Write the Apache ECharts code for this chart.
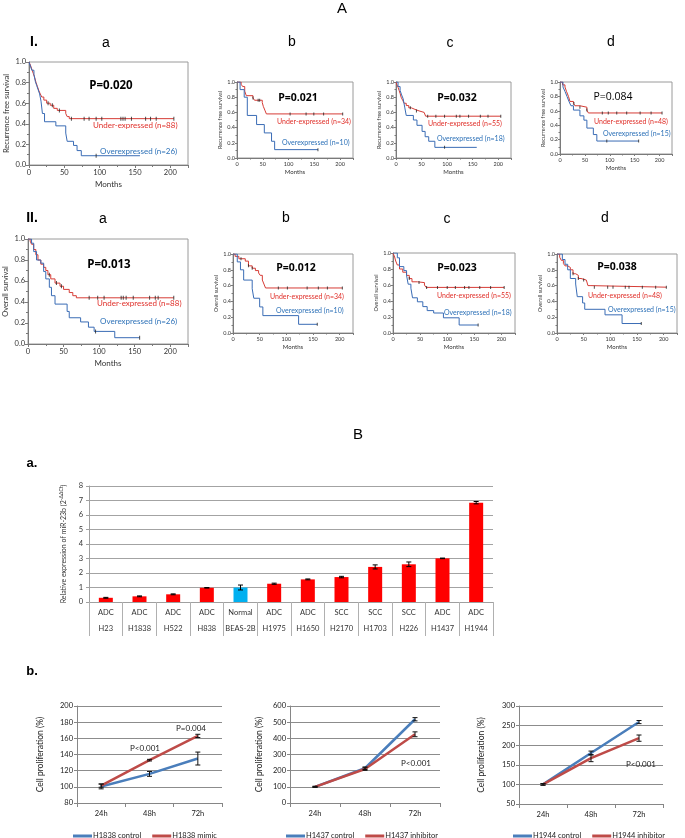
<!DOCTYPE html>
<html><head><meta charset="utf-8">
<script src="https://cdn.jsdelivr.net/npm/echarts@6/dist/echarts.min.js"></script>
<style>html,body{margin:0;padding:0;background:#fff}#c{width:685px;height:838px}</style>
</head><body><div id="c"></div><script>
// ---------- Panel A: Kaplan-Meier step points [month, survival] ----------
const rfsA_under = [[0,1],[2,0.97],[4,0.93],[6,0.89],[8,0.85],[10,0.80],[12,0.76],[14,0.72],[16,0.69],[18,0.66],[21,0.63],[25,0.60],[30,0.58],[35,0.55],[40,0.53],[52,0.50],[54,0.47],[57,0.45],[205,0.45]];
const rfsA_over = [[0,1],[2,0.96],[4,0.92],[7,0.88],[9,0.81],[11,0.77],[13,0.73],[15,0.69],[17,0.62],[19,0.50],[22,0.42],[38,0.38],[52,0.31],[54,0.23],[63,0.19],[68,0.14],[74,0.09],[157,0.09]];
const rfsA_underCens = [27,33,43,60,78,85,95,103,130,133,136,145,165,172,180,205];
const rfsA_overCens = [95];

const rfsB_under = [[0,1],[8,0.97],[11,0.94],[15,0.88],[18,0.82],[31,0.79],[34,0.76],[49,0.73],[51,0.68],[54,0.63],[57,0.58],[205,0.58]];
const rfsB_over = [[0,1],[6,0.9],[14,0.8],[20,0.56],[38,0.44],[53,0.33],[67,0.22],[73,0.11],[157,0.11]];
const rfsB_underCens = [31,41,44,103,134,149,168,205];
const rfsB_overCens = [157];

const rfsC_under = [[0,1],[2,0.96],[4,0.93],[6,0.89],[8,0.85],[10,0.80],[13,0.76],[16,0.72],[20,0.69],[25,0.66],[30,0.64],[37,0.62],[45,0.60],[55,0.58],[58,0.55],[205,0.55]];
const rfsC_over = [[0,1],[4,0.94],[8,0.89],[11,0.83],[14,0.78],[17,0.67],[20,0.56],[34,0.50],[41,0.43],[51,0.35],[57,0.28],[64,0.22],[76,0.14],[158,0.14]];
const rfsC_underCens = [28,40,62,78,95,118,125,142,165,180,205];
const rfsC_overCens = [95];

const rfsD_under = [[0,1],[5,0.96],[10,0.93],[13,0.87],[17,0.80],[20,0.73],[27,0.70],[30,0.67],[40,0.65],[54,0.61],[57,0.57],[205,0.57]];
const rfsD_over = [[0,1],[6,0.93],[10,0.87],[14,0.80],[18,0.73],[22,0.67],[27,0.61],[40,0.53],[48,0.47],[54,0.36],[67,0.27],[74,0.18],[158,0.18]];
const rfsD_underCens = [28,40,54,85,97,114,134,161,183,205];
const rfsD_overCens = [94,158];

const osA_under = [[0,1],[3,0.98],[5,0.95],[8,0.90],[11,0.85],[14,0.80],[18,0.76],[22,0.73],[25,0.70],[28,0.66],[32,0.62],[38,0.58],[45,0.55],[50,0.52],[58,0.49],[63,0.46],[68,0.44],[205,0.44]];
const osA_over = [[0,1],[5,0.96],[8,0.88],[12,0.80],[18,0.77],[22,0.69],[25,0.62],[30,0.54],[33,0.46],[38,0.38],[55,0.31],[58,0.25],[74,0.21],[85,0.16],[93,0.12],[122,0.06],[157,0.06]];
const osA_underCens = [30,40,47,86,98,107,131,134,138,148,171,179,183,205];
const osA_overCens = [95,157];

const osB_under = [[0,1],[4,0.97],[11,0.94],[23,0.91],[29,0.85],[36,0.82],[42,0.79],[48,0.76],[51,0.73],[55,0.67],[58,0.62],[61,0.57],[205,0.57]];
const osB_over = [[0,1],[8,0.9],[14,0.8],[20,0.67],[36,0.56],[39,0.44],[50,0.33],[56,0.22],[123,0.11],[158,0.11]];
const osB_underCens = [15,29,36,85,102,139,160,177,205];
const osB_overCens = [158];

const osC_under = [[0,1],[3,0.95],[5,0.90],[8,0.85],[12,0.80],[18,0.76],[25,0.72],[30,0.68],[35,0.64],[45,0.63],[58,0.60],[61,0.57],[205,0.57]];
const osC_over = [[0,1],[8,0.94],[12,0.83],[20,0.78],[25,0.72],[28,0.61],[33,0.56],[36,0.44],[45,0.39],[55,0.33],[63,0.28],[75,0.25],[93,0.19],[122,0.10],[157,0.10]];
const osC_underCens = [30,48,62,82,100,115,132,140,160,180,205];
const osC_overCens = [157];

const osD_under = [[0,1],[5,0.96],[8,0.92],[12,0.88],[15,0.85],[20,0.83],[25,0.80],[30,0.75],[35,0.73],[40,0.69],[45,0.67],[55,0.65],[58,0.60],[62,0.58],[205,0.58]];
const osD_over = [[0,1],[10,0.93],[15,0.87],[20,0.80],[25,0.69],[35,0.62],[38,0.46],[48,0.38],[52,0.30],[90,0.23],[122,0.12],[158,0.12]];
const osD_underCens = [30,40,50,70,95,105,128,135,160,185,205];
const osD_overCens = [158];

const pValuesRFS = ['P=0.020','P=0.021','P=0.032','P=0.084'];
const pValuesOS = ['P=0.013','P=0.012','P=0.023','P=0.038'];
const underLabelsN = [88,34,55,48];
const overLabelsN = [26,10,18,15];
const monthTicks = [0,50,100,150,200];
const survTicks = [0,0.2,0.4,0.6,0.8,1.0];

// ---------- Panel B a: bar chart ----------
const cellTypes = ['ADC','ADC','ADC','ADC','Normal','ADC','ADC','SCC','SCC','SCC','ADC','ADC'];
const cellLines = ['H23','H1838','H522','H838','BEAS-2B','H1975','H1650','H2170','H1703','H226','H1437','H1944'];
const miR23bExpr = [0.29,0.39,0.53,0.98,1.0,1.26,1.56,1.72,2.42,2.6,3.01,6.85];
const miR23bErr = [0.03,0.03,0.03,0.02,0.17,0.04,0.03,0.05,0.14,0.16,0.02,0.08];
const exprTicks = [0,1,2,3,4,5,6,7,8];

// ---------- Panel B b: proliferation ----------
const timePoints = ['24h','48h','72h'];
const h1838Control = [100.5,116,135];
const h1838ControlErr = [3,3,8];
const h1838Mimic = [101.5,133,163];
const h1838MimicErr = [2,1,2];
const h1437Control = [100,215,518];
const h1437ControlErr = [3,8,10];
const h1437Inhibitor = [100,210,425];
const h1437InhibitorErr = [3,8,15];
const h1944Control = [100,180,259];
const h1944ControlErr = [2,5,4];
const h1944Inhibitor = [100,167,218];
const h1944InhibitorErr = [2,9,8];

// ================= build =================
const FONT = 'Lato';
const RED = '#d63c36', BLUE = '#3a6cb5';
const TXT_RED = '#e0302a', TXT_BLUE = '#2e72b8';
const grids = [], xAxes = [], yAxes = [], series = [], graphics = [], legends = [];

function survAt(curve, t){ let s = curve[0][1]; for (const p of curve){ if (p[0] <= t) s = p[1]; } return s; }
function txt(text, x, y, size, opt){
  opt = opt || {};
  graphics.push({type:'text', x:x, y:y, z:100, style:{text:text, fill:opt.color||'#000',
    font:(opt.weight||'normal')+' '+size+'px '+(opt.family||FONT), align:opt.align||'center', verticalAlign:'middle'}});
}

const kmPanels = [
 {u:rfsA_under,o:rfsA_over,uc:rfsA_underCens,oc:rfsA_overCens,r:[29,62,159,103],big:true,yn:'Recurrence free survival',p:pValuesRFS[0],pb:true,pp:[111,86],n:0,ul:[93,125],ol:[100,151]},
 {u:rfsB_under,o:rfsB_over,uc:rfsB_underCens,oc:rfsB_overCens,r:[237,82,116,76],big:false,yn:'Recurrence free survival',p:pValuesRFS[1],pb:true,pp:[298,98],n:1,ul:[277,122],ol:[282,143]},
 {u:rfsC_under,o:rfsC_over,uc:rfsC_underCens,oc:rfsC_overCens,r:[396,82,115,76],big:false,yn:'Recurrence free survival',p:pValuesRFS[2],pb:true,pp:[457,98],n:2,ul:[428,124],ol:[437,139]},
 {u:rfsD_under,o:rfsD_over,uc:rfsD_underCens,oc:rfsD_overCens,r:[560,82,112,72],big:false,yn:'Recurrence free survival',p:pValuesRFS[3],pb:false,pp:[613,97],n:3,ul:[594,122],ol:[603,134]},
 {u:osA_under,o:osA_over,uc:osA_underCens,oc:osA_overCens,r:[28,239,160,105],big:true,yn:'Overall survival',p:pValuesOS[0],pb:true,pp:[109,265],n:0,ul:[97,303],ol:[100,321]},
 {u:osB_under,o:osB_over,uc:osB_underCens,oc:osB_overCens,r:[233,254,120,79],big:false,yn:'Overall survival',p:pValuesOS[1],pb:true,pp:[296,268],n:1,ul:[270,297],ol:[276,311]},
 {u:osC_under,o:osC_over,uc:osC_underCens,oc:osC_overCens,r:[393,253,122,80],big:false,yn:'Overall survival',p:pValuesOS[2],pb:true,pp:[457,268],n:2,ul:[437,296],ol:[444,313]},
 {u:osD_under,o:osD_over,uc:osD_underCens,oc:osD_overCens,r:[557,254,120,79],big:false,yn:'Overall survival',p:pValuesOS[3],pb:true,pp:[617,267],n:3,ul:[588,296],ol:[608,310]}
];

kmPanels.forEach((k, i) => {
  const fs = k.big ? 7.5 : 5.5;
  grids.push({left:k.r[0], top:k.r[1], width:k.r[2], height:k.r[3], show:true, borderColor:'#9a9a9a', borderWidth:1, backgroundColor:'transparent'});
  const axC = '#7a7a7a';
  xAxes.push({gridIndex:i, type:'value', min:0, max:225, interval:50, position:'bottom',
    axisLine:{show:true, onZero:false, lineStyle:{color:axC}},
    axisTick:{show:true, length:k.big?3:2, lineStyle:{color:axC}},
    minorTick:{show:true, splitNumber:2, length:k.big?2:1.5, lineStyle:{color:axC}},
    splitLine:{show:false},
    axisLabel:{fontSize:fs, fontFamily:FONT, color:'#333', margin:k.big?4:3,
      formatter:v => monthTicks.indexOf(v) >= 0 ? String(v) : ''},
    name:'Months', nameLocation:'middle', nameGap:k.big?15:11,
    nameTextStyle:{fontSize:k.big?8:6, fontFamily:FONT, color:'#333'}});
  yAxes.push({gridIndex:i, type:'value', min:0, max:1, interval:0.2, position:'left',
    axisLine:{show:true, onZero:false, lineStyle:{color:axC}},
    axisTick:{show:true, length:k.big?3:2, lineStyle:{color:axC}},
    minorTick:{show:true, splitNumber:2, length:k.big?2:1.5, lineStyle:{color:axC}},
    splitLine:{show:false},
    axisLabel:{fontSize:fs, fontFamily:FONT, color:'#333', margin:k.big?3:2,
      formatter:v => survTicks.some(t => Math.abs(t - v) < 1e-9) ? v.toFixed(1) : ''},
    name:k.yn, nameLocation:'middle', nameGap:k.big?18:12,
    nameTextStyle:{fontSize:k.big?7.5:5.5, fontFamily:FONT, color:'#333'}});
  series.push({type:'line', xAxisIndex:i, yAxisIndex:i, step:'end', data:k.u, showSymbol:false, silent:true,
    lineStyle:{color:RED, width:1}, z:3});
  series.push({type:'line', xAxisIndex:i, yAxisIndex:i, step:'end', data:k.o, showSymbol:false, silent:true,
    lineStyle:{color:BLUE, width:1}, z:3});
  series.push({type:'scatter', xAxisIndex:i, yAxisIndex:i, silent:true, symbol:'rect', symbolSize:[1, k.big?4:3],
    itemStyle:{color:'#222'}, z:4, data:k.uc.map(t => [t, survAt(k.u, t)])});
  series.push({type:'scatter', xAxisIndex:i, yAxisIndex:i, silent:true, symbol:'rect', symbolSize:[1, k.big?4:3],
    itemStyle:{color:'#222'}, z:4, data:k.oc.map(t => [t, survAt(k.o, t)])});
  txt(k.p, k.pp[0], k.pp[1], k.big?11.5:10.5, {weight:k.pb?'bold':'normal', family:'Open Sans'});
  txt('Under-expressed (n=' + underLabelsN[k.n] + ')', k.ul[0], k.ul[1], k.big?8:7, {color:TXT_RED, align:'left'});
  txt('Overexpressed (n=' + overLabelsN[k.n] + ')', k.ol[0], k.ol[1], k.big?8:7, {color:TXT_BLUE, align:'left'});
});

// headers
txt('A', 342, 9, 15, {family:'Liberation Sans'});
txt('I.', 34, 42, 14, {weight:'bold', family:'Liberation Sans'});
txt('a', 106, 43, 14, {family:'Liberation Sans'});
txt('b', 292, 42, 14, {family:'Liberation Sans'});
txt('c', 450, 43, 14, {family:'Liberation Sans'});
txt('d', 611, 42, 14, {family:'Liberation Sans'});
txt('II.', 32, 218, 14, {weight:'bold', family:'Liberation Sans'});
txt('a', 103, 219, 14, {family:'Liberation Sans'});
txt('b', 286, 218, 14, {family:'Liberation Sans'});
txt('c', 447, 219, 14, {family:'Liberation Sans'});
txt('d', 605, 218, 14, {family:'Liberation Sans'});
txt('B', 358, 435, 15, {family:'Liberation Sans'});
txt('a.', 32, 463, 13, {weight:'bold', family:'Liberation Sans'});
txt('b.', 32, 671, 13, {weight:'bold', family:'Liberation Sans'});

// error bar renderer
function errRender(color, hw){
  return function(params, api){
    const x = api.value(0), y = api.value(1), e = api.value(2);
    const t = api.coord([x, y + e]), b = api.coord([x, y - e]);
    const st = {stroke:color, lineWidth:1};
    return {type:'group', children:[
      {type:'line', shape:{x1:t[0], y1:t[1], x2:b[0], y2:b[1]}, style:st},
      {type:'line', shape:{x1:t[0]-hw, y1:t[1], x2:t[0]+hw, y2:t[1]}, style:st},
      {type:'line', shape:{x1:b[0]-hw, y1:b[1], x2:b[0]+hw, y2:b[1]}, style:st}
    ]};
  };
}

// ---- bar chart ----
let gi = grids.length;
grids.push({left:89, top:486, width:404, height:116});
xAxes.push({gridIndex:gi, type:'category', data:cellLines, position:'bottom',
  axisLine:{show:true, onZero:false, lineStyle:{color:'#a0a0a0'}},
  axisTick:{show:true, interval:0, length:34, alignWithLabel:false, lineStyle:{color:'#b0b0b0'}},
  axisLabel:{interval:0, margin:3, color:'#333', fontFamily:FONT,
    formatter:(v, idx) => '{t|' + cellTypes[idx] + '}\n{n|' + v + '}',
    rich:{t:{fontSize:7.5, fontFamily:FONT, lineHeight:16, color:'#333'}, n:{fontSize:7.5, fontFamily:FONT, lineHeight:16, color:'#333'}}}});
yAxes.push({gridIndex:gi, type:'value', min:0, max:8, interval:1, position:'left',
  axisLine:{show:true, onZero:false, lineStyle:{color:'#a0a0a0'}},
  axisTick:{show:true, length:3, lineStyle:{color:'#a0a0a0'}},
  splitLine:{show:true, lineStyle:{color:'#a3a3a3', width:1}},
  axisLabel:{fontSize:7.5, fontFamily:FONT, color:'#333', margin:6,
    formatter:v => exprTicks.indexOf(v) >= 0 ? String(v) : ''},
  name:'Relative expression of miR-23b (2{s|-ΔΔCt})', nameLocation:'middle', nameGap:21,
  nameTextStyle:{fontSize:7, fontFamily:FONT, color:'#333', rich:{s:{fontSize:5, fontFamily:FONT, color:'#333', padding:[0,0,4,0]}}}});
series.push({type:'bar', xAxisIndex:gi, yAxisIndex:gi, barWidth:14, silent:true,
  data:miR23bExpr.map((v, i) => ({value:v, itemStyle:{color: cellTypes[i] === 'Normal' ? '#00b0f0' : '#ff0000'}}))});
series.push({type:'custom', xAxisIndex:gi, yAxisIndex:gi, silent:true, z:5,
  renderItem:errRender('#000', 2.5), data:miR23bExpr.map((v, i) => [i, v, miR23bErr[i]])});

// ---- proliferation charts ----
const LBLUE = '#4a7ebb', LRED = '#be4b48';
const prolif = [
  {r:[77,706,145,97], min:80, max:200, iv:20, c:h1838Control, ce:h1838ControlErr, t:h1838Mimic, te:h1838MimicErr,
   cn:'H1838 control', tn:'H1838 mimic', gap:32, leg:68},
  {r:[290,706,150,97], min:0, max:600, iv:100, c:h1437Control, ce:h1437ControlErr, t:h1437Inhibitor, te:h1437InhibitorErr,
   cn:'H1437 control', tn:'H1437 inhibitor', gap:26, leg:281},
  {r:[519,706,144,98], min:50, max:300, iv:50, c:h1944Control, ce:h1944ControlErr, t:h1944Inhibitor, te:h1944InhibitorErr,
   cn:'H1944 control', tn:'H1944 inhibitor', gap:33, leg:508}
];
prolif.forEach(pc => {
  const g = grids.length;
  grids.push({left:pc.r[0], top:pc.r[1], width:pc.r[2], height:pc.r[3]});
  xAxes.push({gridIndex:g, type:'category', data:timePoints, boundaryGap:true, position:'bottom',
    axisLine:{show:true, onZero:false, lineStyle:{color:'#868686'}},
    axisTick:{show:true, length:4, lineStyle:{color:'#868686'}},
    axisLabel:{fontSize:7.5, fontFamily:FONT, color:'#222', margin:7}});
  yAxes.push({gridIndex:g, type:'value', min:pc.min, max:pc.max, interval:pc.iv, position:'left',
    axisLine:{show:true, onZero:false, lineStyle:{color:'#868686'}},
    axisTick:{show:true, length:3, lineStyle:{color:'#868686'}},
    splitLine:{show:true, lineStyle:{color:'#8c8c8c', width:1}},
    axisLabel:{fontSize:7.5, fontFamily:FONT, color:'#222', margin:4},
    name:'Cell proliferation (%)', nameLocation:'middle', nameGap:pc.gap,
    nameTextStyle:{fontSize:8.5, fontFamily:FONT, color:'#222'}});
  series.push({type:'line', name:pc.cn, xAxisIndex:g, yAxisIndex:g, data:pc.c, showSymbol:false, silent:true,
    lineStyle:{color:LBLUE, width:2.5}, itemStyle:{color:LBLUE}, z:3});
  series.push({type:'line', name:pc.tn, xAxisIndex:g, yAxisIndex:g, data:pc.t, showSymbol:false, silent:true,
    lineStyle:{color:LRED, width:2.5}, itemStyle:{color:LRED}, z:3});
  series.push({type:'custom', xAxisIndex:g, yAxisIndex:g, silent:true, z:6,
    renderItem:errRender('#111', 2.5), data:pc.c.map((v, i) => [i, v, pc.ce[i]])});
  series.push({type:'custom', xAxisIndex:g, yAxisIndex:g, silent:true, z:6,
    renderItem:errRender('#111', 2.5), data:pc.t.map((v, i) => [i, v, pc.te[i]])});
  legends.push({data:[pc.cn, pc.tn], left:pc.leg, top:827, icon:'rect', itemWidth:19, itemHeight:3, itemGap:11,
    selectedMode:false, textStyle:{fontSize:7.5, fontFamily:FONT, color:'#222', padding:[0,0,0,-4]}});
});
txt('P=0.004', 191, 728, 8, {color:'#222'});
txt('P<0.001', 145, 748, 8, {color:'#222'});
txt('P<0.001', 416, 763, 8, {color:'#222'});
txt('P<0.001', 641, 764, 8, {color:'#222'});

const chart = echarts.init(document.getElementById('c'), null, {renderer:'canvas'});
chart.setOption({
  animation:false, backgroundColor:'#fff',
  textStyle:{fontFamily:FONT},
  grid:grids, xAxis:xAxes, yAxis:yAxes, series:series, legend:legends, graphic:graphics
});
</script></body></html>
